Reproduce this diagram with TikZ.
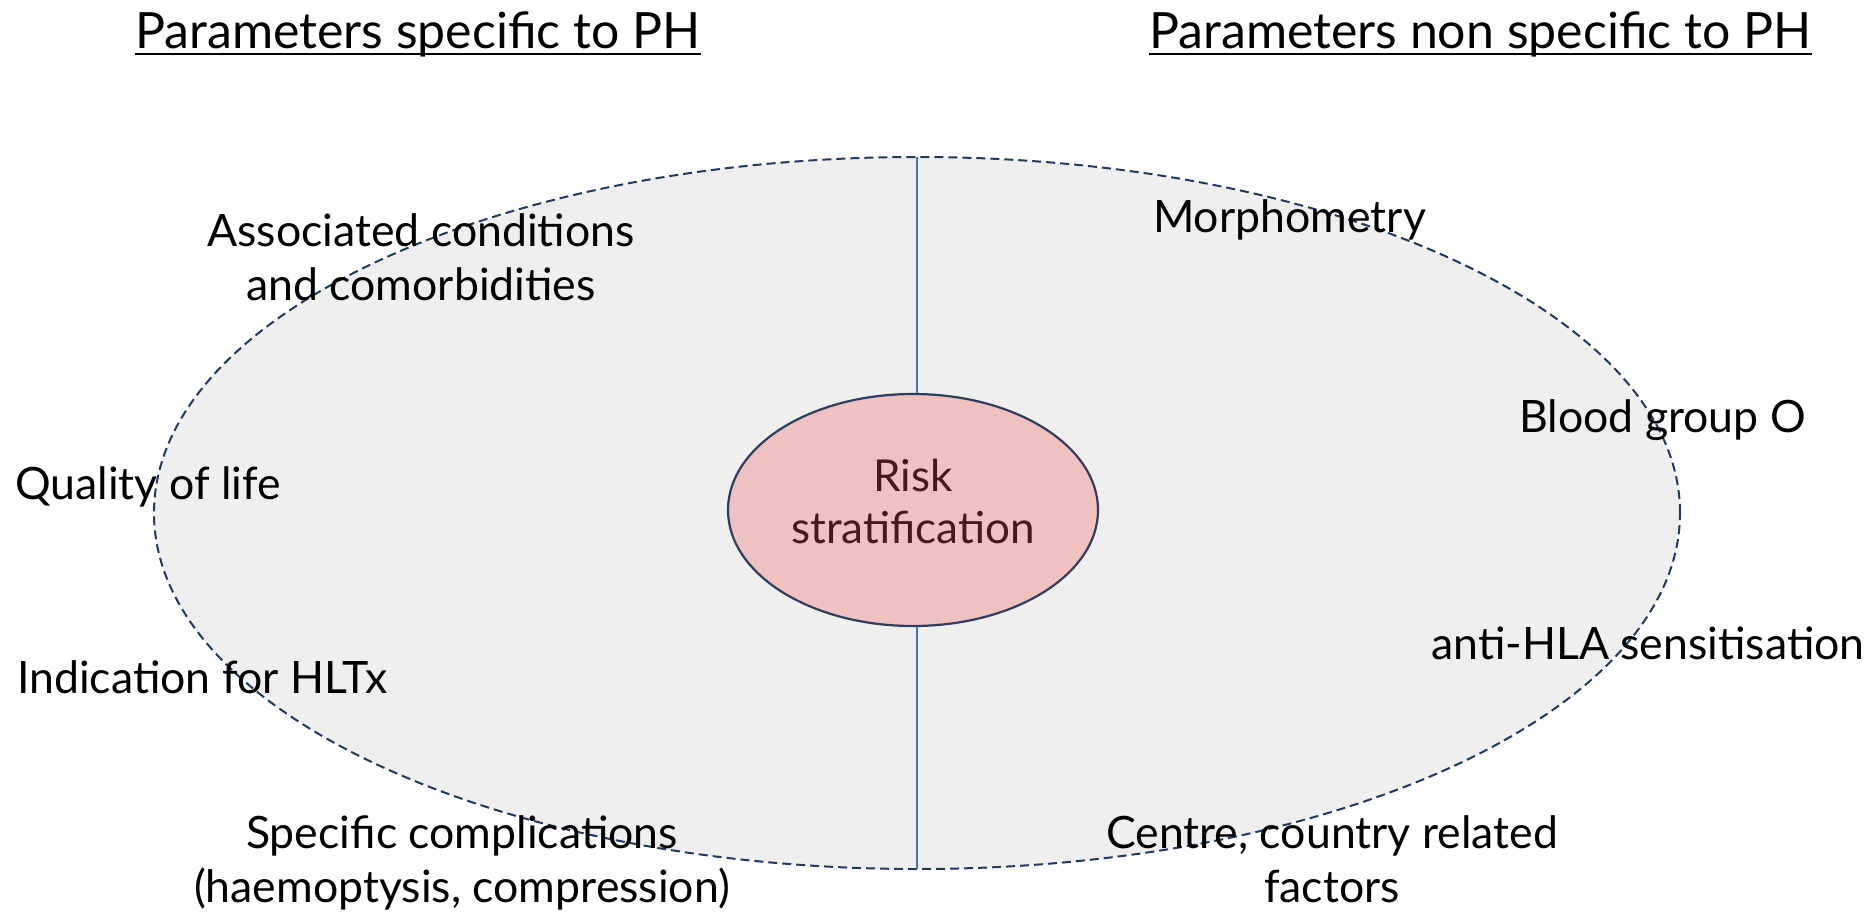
\documentclass[tikz,border=0pt]{standalone}
\usepackage{fontspec}
\setmainfont{Lato}
\usetikzlibrary{shapes.geometric}
\definecolor{outerfill}{HTML}{EFEFEF}
\definecolor{outerline}{HTML}{203864}
\definecolor{innerfill}{HTML}{F0C1C1}
\definecolor{innerline}{HTML}{2E3E5E}
\definecolor{innertext}{HTML}{4A1818}
\definecolor{axisline}{HTML}{4472C4}
\tikzset{
  body/.style={inner sep=0pt, font=\fontsize{44.6}{53.6}\selectfont, text=black},
  titletext/.style={inner sep=0pt, font=\fontsize{50}{60}\selectfont, text=black},
  uline/.style={line width=2.5pt, black},
  axis/.style={line width=2.2pt, axisline},
}
\begin{document}
\begin{tikzpicture}[x=1pt,y=-1pt]
\useasboundingbox (0,0) rectangle (1867,913);
% outer ellipse
\node[ellipse, draw=outerline, fill=outerfill, dash pattern=on 9pt off 5pt, line width=2pt,
  minimum width=1526pt, minimum height=712pt, inner sep=0pt] (outer) at (917,513) {};
% inner ellipse
\node[ellipse, draw=innerline, fill=innerfill, line width=2.2pt,
  minimum width=370pt, minimum height=232pt, inner sep=0pt] (risk) at (913,510) {};
\node[inner sep=0pt, align=center, text=innertext, font=\fontsize{44}{52}\selectfont]
  (risktext) at (913,501) {Risk\\stratification};
% axis lines
\coordinate (topend) at (917,157);
\coordinate (botend) at (917,869);
\draw[axis] (topend) -- (risk.north -| topend);
\draw[axis] (risk.south -| botend) -- (botend);
% titles
\node[titletext, anchor=base west] (t1) at (135,48) {Parameters specific to PH};
\node[titletext, anchor=base west] (t2) at (1149,48) {Parameters non specific to PH};
\draw[uline] ([yshift=-6pt]t1.base west) -- ([yshift=-6pt]t1.base east);
\draw[uline] ([yshift=-6pt]t2.base west) -- ([yshift=-6pt]t2.base east);
% left labels
\node[body, align=center] (assoc) at (421,257) {Associated conditions\\and comorbidities};
\node[body, anchor=west] (qol) at (15,487) {Quality of life};
\node[body, anchor=west] (hltx) at (17,677) {Indication for HLTx};
\node[body, align=center] (compl) at (462,863) {Specific complications\\(haemoptysis, compression)};
% right labels
\node[body, anchor=west] (morph) at (1153,220) {Morphometry};
\node[body, anchor=west] (blood) at (1519,420) {Blood group O};
\node[body, anchor=west] (hla) at (1431,643) {anti-HLA sensitisation};
\node[body, align=center] (centre) at (1332,859) {Centre, country related\\factors};
\end{tikzpicture}
\end{document}
